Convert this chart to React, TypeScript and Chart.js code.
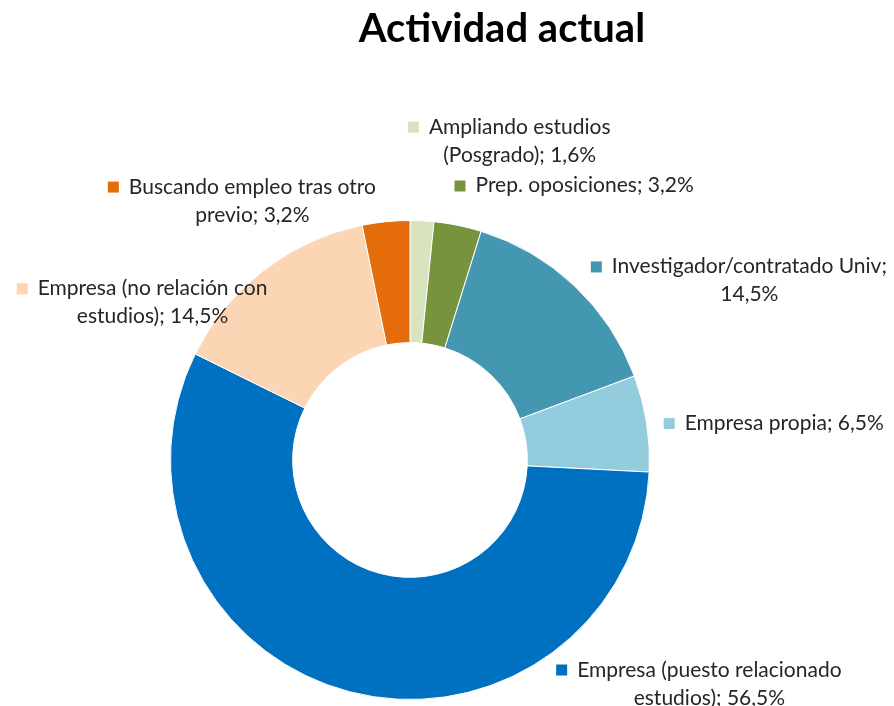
import React, { useEffect, useRef } from "react";
import { Chart, registerables } from "chart.js";

Chart.register(...registerables);

// ---- Data ----
const title = "Actividad actual";
const categories = [
  "Ampliando estudios (Posgrado)",
  "Prep. oposiciones",
  "Investigador/contratado Univ",
  "Empresa propia",
  "Empresa (puesto relacionado estudios)",
  "Empresa (no relación con estudios)",
  "Buscando empleo tras otro previo",
];
const values = [1.6, 3.2, 14.5, 6.5, 56.5, 14.5, 3.2];
const colors = ["#d7e4bd", "#77933c", "#4397b0", "#93cddd", "#0070c0", "#fcd5b5", "#e46c0a"];
// number of words on the first label line (0 = single line)
const firstLineWords = [2, 0, 2, 0, 3, 4, 4];

// ---- Label layout (relative to arc centre, in units of outer radius): text-centre x, first baseline y ----
const labelDx = [0.458, 0.729, 1.417, 1.5625, 1.25, -1.075, -0.658];
const labelDy = [-1.3625, -1.117, -0.779, -0.125, 0.904, -0.6875, -1.1125];

const LABEL_FONT = "21px Lato, 'Open Sans', sans-serif";
const LABEL_COLOR = "#262626";
const LINE_H = 28;
const MARK = 11;
const MARK_GAP = 10;

function labelLines(i: number): string[] {
  const pct = values[i].toFixed(1).replace(".", ",");
  const full = `${categories[i]}; ${pct}%`;
  const n = firstLineWords[i];
  if (!n) return [full];
  const words = full.split(" ");
  return [words.slice(0, n).join(" "), words.slice(n).join(" ")];
}

const labelPlugin = {
  id: "outerLabels",
  afterDraw(chart: any) {
    const ctx = chart.ctx as CanvasRenderingContext2D;
    const meta = chart.getDatasetMeta(0);
    const arc0 = meta.data[0] as any;
    if (!arc0) return;
    const cx = arc0.x;
    const cy = arc0.y;
    const R = arc0.outerRadius;
    ctx.save();
    // title
    ctx.font = "bold 40px Lato, 'Open Sans', sans-serif";
    ctx.fillStyle = "#000000";
    ctx.textAlign = "center";
    ctx.textBaseline = "alphabetic";
    ctx.fillText(title, chart.width * 0.5615, 42);

    ctx.font = LABEL_FONT;
    for (let i = 0; i < values.length; i++) {
      const lines = labelLines(i);
      const tx = cx + labelDx[i] * R;
      const ty = cy + labelDy[i] * R;
      lines.forEach((line, k) => {
        ctx.fillStyle = LABEL_COLOR;
        ctx.textAlign = "center";
        ctx.fillText(line, tx, ty + k * LINE_H);
        if (k === 0) {
          const w = ctx.measureText(line).width;
          const left = tx - w / 2;
          ctx.fillStyle = colors[i];
          ctx.fillRect(left - MARK_GAP - MARK, ty - MARK - 1, MARK, MARK);
        }
      });
    }
    ctx.restore();
  },
};

export default function App() {
  const canvasRef = useRef<HTMLCanvasElement | null>(null);

  useEffect(() => {
    if (!canvasRef.current) return;
    const chart = new Chart(canvasRef.current, {
      type: "doughnut",
      data: {
        labels: categories,
        datasets: [
          {
            data: values,
            backgroundColor: colors,
            borderColor: "#ffffff",
            borderWidth: 1,
          },
        ],
      },
      options: {
        responsive: true,
        maintainAspectRatio: false,
        animation: false,
        cutout: "49%",
        layout: { padding: { top: 220, left: 170, right: 244, bottom: 6 } },
        plugins: {
          legend: { display: false },
          title: { display: false },
          tooltip: { enabled: false },
        },
      },
      plugins: [labelPlugin],
    });
    return () => chart.destroy();
  }, []);

  return (
    <div style={{ position: "fixed", left: 0, top: 0, width: 894, height: 706, background: "#ffffff" }}>
      <canvas ref={canvasRef} />
    </div>
  );
}
